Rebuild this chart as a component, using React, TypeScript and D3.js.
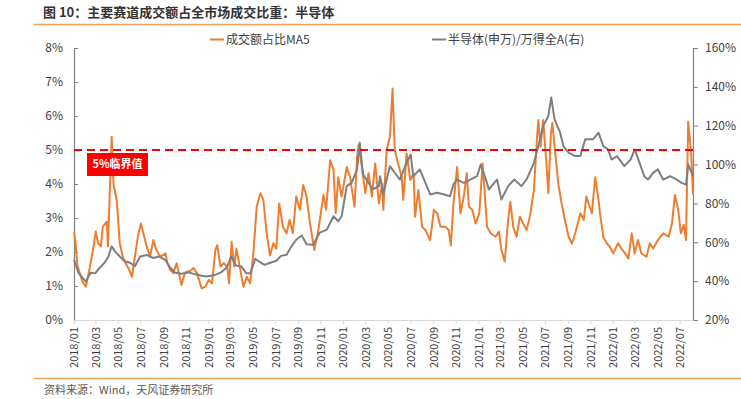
import { useEffect, useRef } from 'react';
import * as d3 from 'd3';

const W = 741;
const H = 399;

// 成交额占比MA5 (%, left axis)
const shareDates = [
  '2018-01-02', '2018-01-06', '2018-01-11', '2018-01-25', '2018-02-03', '2018-02-11', '2018-02-24', '2018-03-02',
  '2018-03-08', '2018-03-16', '2018-03-21', '2018-04-01', '2018-04-04', '2018-04-14', '2018-04-19', '2018-04-28',
  '2018-05-06', '2018-05-14', '2018-05-22', '2018-06-01', '2018-06-08', '2018-06-16', '2018-06-24', '2018-07-02',
  '2018-07-09', '2018-07-18', '2018-07-27', '2018-08-05', '2018-08-13', '2018-08-24', '2018-09-07', '2018-09-12',
  '2018-09-20', '2018-09-28', '2018-10-07', '2018-10-20', '2018-10-30', '2018-11-13', '2018-11-22', '2018-12-01',
  '2018-12-14', '2018-12-24', '2019-01-02', '2019-01-11', '2019-01-20', '2019-01-25', '2019-02-03', '2019-02-12',
  '2019-02-21', '2019-02-26', '2019-03-05', '2019-03-12', '2019-03-18', '2019-03-27', '2019-04-06', '2019-04-15',
  '2019-04-24', '2019-05-03', '2019-05-12', '2019-05-22', '2019-05-30', '2019-06-08', '2019-06-17', '2019-06-26',
  '2019-07-04', '2019-07-12', '2019-07-22', '2019-08-01', '2019-08-09', '2019-08-18', '2019-08-27', '2019-09-06',
  '2019-09-15', '2019-09-24', '2019-10-02', '2019-10-15', '2019-10-26', '2019-11-09', '2019-11-16', '2019-11-27',
  '2019-12-06', '2019-12-12', '2019-12-19', '2019-12-28', '2020-01-11', '2020-01-20', '2020-02-01', '2020-02-08',
  '2020-02-12', '2020-02-21', '2020-03-01', '2020-03-10', '2020-03-19', '2020-03-28', '2020-04-07', '2020-04-16',
  '2020-04-19', '2020-04-28', '2020-05-07', '2020-05-14', '2020-05-20', '2020-05-29', '2020-06-08', '2020-06-12',
  '2020-06-21', '2020-07-01', '2020-07-10', '2020-07-14', '2020-07-23', '2020-08-02', '2020-08-11', '2020-08-24',
  '2020-09-03', '2020-09-12', '2020-09-21', '2020-10-04', '2020-10-13', '2020-10-19', '2020-10-26', '2020-11-05',
  '2020-11-14', '2020-11-23', '2020-12-01', '2020-12-07', '2020-12-16', '2020-12-25', '2021-01-04', '2021-01-13',
  '2021-01-19', '2021-01-25', '2021-02-04', '2021-02-17', '2021-02-26', '2021-03-05', '2021-03-14', '2021-03-23',
  '2021-03-29', '2021-04-06', '2021-04-15', '2021-04-24', '2021-05-03', '2021-05-12', '2021-05-21', '2021-06-01',
  '2021-06-09', '2021-06-13', '2021-06-19', '2021-06-26', '2021-07-05', '2021-07-10', '2021-07-17', '2021-07-21',
  '2021-07-27', '2021-08-06', '2021-08-15', '2021-08-24', '2021-09-03', '2021-09-12', '2021-09-21', '2021-10-05',
  '2021-10-14', '2021-10-21', '2021-11-05', '2021-11-14', '2021-11-23', '2021-11-27', '2021-12-06', '2021-12-15',
  '2021-12-23', '2022-01-02', '2022-01-15', '2022-01-24', '2022-02-03', '2022-02-12', '2022-02-21', '2022-03-01',
  '2022-03-10', '2022-03-19', '2022-04-02', '2022-04-11', '2022-04-20', '2022-05-03', '2022-05-17', '2022-06-01',
  '2022-06-10', '2022-06-18', '2022-06-27', '2022-07-04', '2022-07-12', '2022-07-18', '2022-07-24', '2022-08-01',
  '2022-08-06'
];
const shareValues = [
  2.6, 2.3, 1.6, 1.13, 0.98, 1.38, 2.16, 2.6,
  2.26, 2.16, 2.74, 2.89, 2.16, 5.39, 4.0, 3.5,
  2.26, 1.86, 1.67, 1.47, 1.27, 1.86, 2.45, 2.84,
  2.55, 2.16, 1.86, 2.35, 2.06, 1.86, 1.96, 1.67,
  1.47, 1.38, 1.67, 1.03, 1.4, 1.45, 1.53, 1.38,
  0.93, 0.98, 1.18, 1.08, 2.06, 2.2, 1.57, 1.67,
  1.57, 1.08, 2.3, 1.57, 2.1, 1.57, 0.98, 1.27,
  1.08, 1.96, 3.33, 3.73, 3.53, 2.55, 1.9, 2.26,
  2.1, 3.43, 2.74, 2.55, 2.94, 2.55, 3.63, 3.24,
  3.97, 3.63, 2.94, 2.06, 2.65, 3.68, 3.24, 4.7,
  4.41, 3.14, 4.2, 3.63, 4.5, 4.2, 3.33, 4.8,
  5.15, 4.5, 3.73, 4.32, 3.63, 4.6, 3.43, 4.0,
  3.24, 5.0, 5.39, 6.81, 5.0, 4.6, 4.2, 3.53,
  4.9, 4.12, 4.3, 3.04, 3.82, 2.74, 2.65, 2.35,
  3.24, 3.14, 2.74, 2.74, 2.65, 2.2, 3.43, 4.5,
  3.14, 3.63, 4.32, 3.33, 3.24, 2.84, 3.14, 4.6,
  3.7, 2.74, 2.55, 2.45, 2.6, 2.06, 1.72, 2.94,
  3.48, 2.74, 2.45, 3.04, 2.84, 2.65, 3.04, 3.82,
  5.3, 5.88, 5.1, 5.88, 4.6, 3.73, 5.49, 5.8,
  5.1, 4.02, 3.43, 2.94, 2.45, 2.25, 2.55, 3.14,
  2.94, 3.63, 3.14, 4.2, 3.53, 3.14, 2.45, 2.26,
  2.16, 1.96, 2.26, 2.1, 1.96, 1.81, 2.55, 1.96,
  2.35, 1.96, 1.86, 2.26, 2.1, 2.35, 2.55, 2.45,
  2.84, 3.68, 3.24, 2.55, 2.8, 2.35, 5.83, 4.9,
  3.7
];

// 半导体(申万)/万得全A (%, right axis)
const ratioDates = [
  '2018-01-02', '2018-01-14', '2018-02-03', '2018-02-16', '2018-02-28', '2018-03-13', '2018-03-26', '2018-04-05',
  '2018-04-14', '2018-04-23', '2018-05-06', '2018-05-20', '2018-06-03', '2018-06-16', '2018-06-30', '2018-07-18',
  '2018-08-05', '2018-08-19', '2018-09-06', '2018-09-20', '2018-10-03', '2018-10-20', '2018-11-08', '2018-11-27',
  '2018-12-14', '2018-12-27', '2019-01-16', '2019-02-04', '2019-02-20', '2019-03-04', '2019-03-17', '2019-04-01',
  '2019-04-14', '2019-04-25', '2019-05-08', '2019-05-19', '2019-06-02', '2019-06-18', '2019-07-04', '2019-07-17',
  '2019-08-01', '2019-08-14', '2019-08-27', '2019-09-11', '2019-09-24', '2019-10-12', '2019-10-29', '2019-11-18',
  '2019-12-06', '2019-12-19', '2019-12-28', '2020-01-11', '2020-01-24', '2020-02-08', '2020-02-15', '2020-02-24',
  '2020-03-10', '2020-03-21', '2020-04-07', '2020-04-10', '2020-04-19', '2020-04-28', '2020-05-07', '2020-05-20',
  '2020-06-03', '2020-06-17', '2020-07-02', '2020-07-09', '2020-07-27', '2020-08-11', '2020-08-24', '2020-09-12',
  '2020-10-01', '2020-10-17', '2020-10-26', '2020-11-05', '2020-11-23', '2020-12-11', '2020-12-29', '2021-01-08',
  '2021-01-22', '2021-01-30', '2021-02-21', '2021-03-05', '2021-03-23', '2021-04-09', '2021-04-28', '2021-05-12',
  '2021-06-01', '2021-06-13', '2021-06-26', '2021-07-10', '2021-07-18', '2021-07-27', '2021-08-11', '2021-08-20',
  '2021-09-03', '2021-09-21', '2021-10-05', '2021-10-18', '2021-10-30', '2021-11-08', '2021-11-23', '2021-12-06',
  '2021-12-19', '2021-12-28', '2022-01-12', '2022-02-01', '2022-02-18', '2022-03-01', '2022-03-14', '2022-03-27',
  '2022-04-06', '2022-04-20', '2022-05-03', '2022-05-17', '2022-06-05', '2022-06-23', '2022-07-06', '2022-07-18',
  '2022-07-24', '2022-08-06'
];
const ratioValues = [
  51, 44.3, 39.8, 44.3, 44, 46.9, 49.5, 52.7,
  57.9, 55.3, 52.7, 50.1, 49.5, 47.7, 52.7, 53.5,
  51.9, 52.7, 51, 46.9, 44.3, 43.8, 44.5, 43.5,
  42.8, 42.4, 43, 44.5, 47, 52.7, 48, 47.5,
  44, 44, 51.5, 50, 48.4, 49.5, 50.5, 53,
  53.6, 57.9, 61.3, 63.5, 59, 58.7, 64.8, 66.5,
  73.4, 70.8, 73.4, 88.9, 90.6, 97.5, 111.3, 95,
  90.6, 87.2, 88.9, 94, 84.6, 92.3, 99.2, 95.8,
  92.3, 99.2, 105.2, 94, 97.5, 90.6, 84.6, 85.5,
  84.6, 83.7, 89.7, 92.3, 90.6, 92.3, 94, 100.1,
  92.3, 87.2, 92.3, 82, 88.9, 92.3, 88.9, 92.3,
  100.9, 109.5, 119.8, 125, 134.5, 123.3, 116.4, 109.5,
  106.1, 104.4, 104.4, 113, 113, 113, 116.4, 109.5,
  107.8, 102.6, 104.3, 99.2, 102.6, 107.8, 101, 94,
  92.3, 95.7, 97.5, 92.3, 94, 92.3, 90.6, 89.7,
  100.1, 94
];

const leftTicks = [0, 1, 2, 3, 4, 5, 6, 7, 8];
const rightTicks = [20, 40, 60, 80, 100, 120, 140, 160];
const xTickLabels = [
  '2018/01', '2018/03', '2018/05', '2018/07', '2018/09', '2018/11',
  '2019/01', '2019/03', '2019/05', '2019/07', '2019/09', '2019/11',
  '2020/01', '2020/03', '2020/05', '2020/07', '2020/09', '2020/11',
  '2021/01', '2021/03', '2021/05', '2021/07', '2021/09', '2021/11',
  '2022/01', '2022/03', '2022/05', '2022/07'
];
const threshold = 5;

const FONT = "'Noto Sans CJK SC', 'Noto Sans', sans-serif";
const ORANGE = '#ed7d31';
const GREY = '#7f7f7f';

export default function App() {
  const chartRef = useRef<SVGSVGElement | null>(null);

  useEffect(() => {
    if (!chartRef.current) return;
    const svg = d3.select(chartRef.current);
    svg.selectAll('*').remove();

    const parse = d3.timeParse('%Y-%m-%d');
    const parseTick = d3.timeParse('%Y/%m');
    const plot = { left: 74, right: 693, top: 48, bottom: 320 };

    const x = d3
      .scaleTime()
      .domain([parse('2018-01-02') as Date, parse('2022-08-06') as Date])
      .range([plot.left, plot.right]);
    const yL = d3.scaleLinear().domain([0, 8]).range([plot.bottom, plot.top]);
    const yR = d3.scaleLinear().domain([20, 160]).range([plot.bottom, plot.top]);

    svg.append('rect').attr('width', W).attr('height', H).attr('fill', '#fff');

    // title + rules
    svg
      .append('text')
      .attr('x', 43)
      .attr('y', 17)
      .style('font-family', FONT)
      .style('font-size', '13px')
      .style('font-weight', 'bold')
      .attr('fill', '#333')
      .text('图 10：主要赛道成交额占全市场成交比重：半导体');
    svg.append('line').attr('x1', 34).attr('x2', W).attr('y1', 24.5).attr('y2', 24.5)
      .attr('stroke', '#f2a25c').attr('stroke-width', 1.3);
    svg.append('line').attr('x1', 34).attr('x2', W).attr('y1', 378.5).attr('y2', 378.5)
      .attr('stroke', '#f2a25c').attr('stroke-width', 1.3);
    svg
      .append('text')
      .attr('x', 44)
      .attr('y', 394)
      .style('font-family', FONT)
      .style('font-size', '11px')
      .attr('fill', '#595959')
      .text('资料来源：Wind，天风证券研究所');

    // axes
    const leftAxis = d3
      .axisLeft(yL)
      .tickValues(leftTicks)
      .tickFormat((d) => `${d}%`)
      .tickSizeInner(-4)
      .tickSizeOuter(0)
      .tickPadding(11);
    const gl = svg.append('g').attr('transform', `translate(${plot.left},0)`).call(leftAxis);

    const rightAxis = d3
      .axisRight(yR)
      .tickValues(rightTicks)
      .tickFormat((d) => `${d}%`)
      .tickSizeInner(5)
      .tickSizeOuter(0)
      .tickPadding(7);
    const gr = svg.append('g').attr('transform', `translate(${plot.right},0)`).call(rightAxis);

    [gl, gr].forEach((g) => {
      g.select('.domain').attr('stroke', '#808080').attr('stroke-width', 1.2);
      g.selectAll('.tick line').attr('stroke', '#808080');
      g.selectAll('text').style('font-family', FONT).style('font-size', '12px').attr('fill', '#404040');
    });

    const bottomAxis = d3
      .axisBottom(x)
      .tickValues(xTickLabels.map((s) => parseTick(s) as Date))
      .tickFormat((d) => d3.timeFormat('%Y/%m')(d as Date))
      .tickSizeInner(4)
      .tickSizeOuter(0);
    const gb = svg.append('g').attr('transform', `translate(0,${plot.bottom})`).call(bottomAxis);
    gb.select('.domain').attr('stroke', '#d9d9d9').attr('stroke-width', 1.2);
    gb.selectAll('.tick line').attr('stroke', '#d9d9d9');
    gb.selectAll('text')
      .attr('transform', 'rotate(-90)')
      .attr('text-anchor', 'end')
      .attr('x', -7)
      .attr('y', 0)
      .attr('dy', '0.35em')
      .style('font-family', FONT)
      .style('font-size', '11px')
      .attr('fill', '#404040');

    // series
    const share = shareDates.map((d, i) => ({ date: parse(d) as Date, v: shareValues[i] }));
    const ratio = ratioDates.map((d, i) => ({ date: parse(d) as Date, v: ratioValues[i] }));

    const shareLine = d3
      .line<{ date: Date; v: number }>()
      .x((d) => x(d.date))
      .y((d) => yL(d.v));
    const ratioLine = d3
      .line<{ date: Date; v: number }>()
      .x((d) => x(d.date))
      .y((d) => yR(d.v));

    svg.append('path').datum(share).attr('d', shareLine).attr('fill', 'none')
      .attr('stroke', ORANGE).attr('stroke-width', 2).attr('stroke-linejoin', 'round');
    svg.append('path').datum(ratio).attr('d', ratioLine).attr('fill', 'none')
      .attr('stroke', GREY).attr('stroke-width', 2).attr('stroke-linejoin', 'round');

    // 5% threshold
    svg.append('line')
      .attr('x1', plot.left).attr('x2', plot.right)
      .attr('y1', yL(threshold)).attr('y2', yL(threshold))
      .attr('stroke', '#ff0000').attr('stroke-width', 2).attr('stroke-dasharray', '8,5');
    svg.append('rect')
      .attr('x', 87).attr('y', yL(threshold) + 3)
      .attr('width', 61).attr('height', 23)
      .attr('fill', '#ff0000');
    svg.append('text')
      .attr('x', 117.5).attr('y', yL(threshold) + 14.5)
      .attr('dy', '0.35em')
      .attr('text-anchor', 'middle')
      .style('font-family', FONT)
      .style('font-size', '11px')
      .style('font-weight', 'bold')
      .attr('fill', '#fff')
      .text(`${threshold}%临界值`);

    // legend
    const legendItems = [
      { label: '成交额占比MA5', color: ORANGE, x: 210 },
      { label: '半导体(申万)/万得全A(右)', color: GREY, x: 432 }
    ];
    legendItems.forEach((item) => {
      const g = svg.append('g').attr('transform', `translate(${item.x},39.5)`);
      g.append('line').attr('x1', 0).attr('x2', 14).attr('stroke', item.color).attr('stroke-width', 2);
      g.append('text')
        .attr('x', 16)
        .attr('dy', '0.35em')
        .style('font-family', FONT)
        .style('font-size', '12px')
        .attr('fill', '#404040')
        .text(item.label);
    });
  }, []);

  return (
    <svg
      ref={chartRef}
      width={W}
      height={H}
      style={{ position: 'absolute', left: 0, top: 0, display: 'block' }}
    />
  );
}
